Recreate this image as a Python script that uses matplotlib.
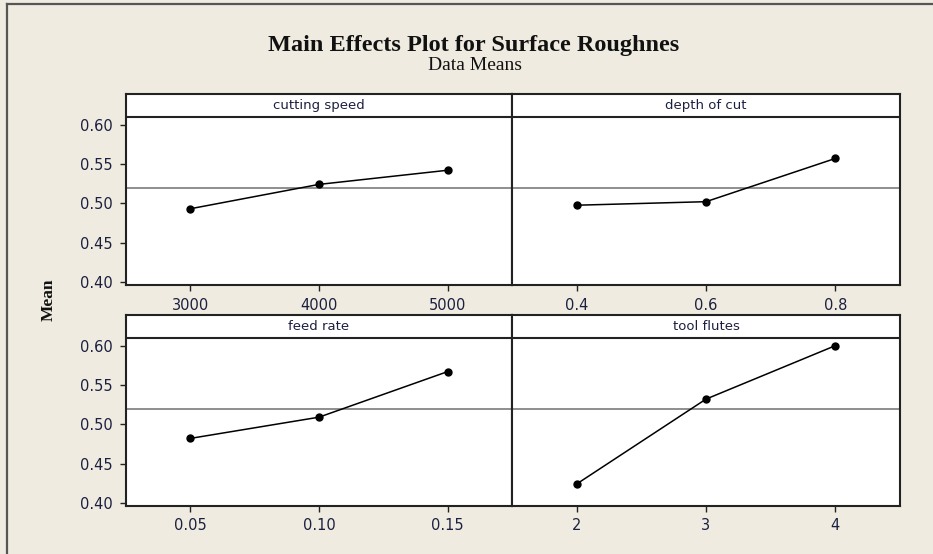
import matplotlib
matplotlib.use('Agg')
import matplotlib.pyplot as plt

# factor names and levels
factors = ['cutting speed', 'depth of cut', 'feed rate', 'tool flutes']
cutting_speed = [3000, 4000, 5000]
depth_of_cut = [0.4, 0.6, 0.8]
feed_rate = [0.05, 0.10, 0.15]
tool_flutes = [2, 3, 4]

# mean surface roughness at each level
mean_cutting_speed = [0.493, 0.524, 0.542]
mean_depth_of_cut = [0.4975, 0.502, 0.557]
mean_feed_rate = [0.482, 0.509, 0.567]
mean_tool_flutes = [0.424, 0.532, 0.600]

level_labels = [['3000', '4000', '5000'],
                ['0.4', '0.6', '0.8'],
                ['0.05', '0.10', '0.15'],
                ['2', '3', '4']]
grand_mean = 0.519
y_ticks = [0.40, 0.45, 0.50, 0.55, 0.60]
y_tick_labels = ['0.40', '0.45', '0.50', '0.55', '0.60']

levels = [cutting_speed, depth_of_cut, feed_rate, tool_flutes]
means = [mean_cutting_speed, mean_depth_of_cut, mean_feed_rate, mean_tool_flutes]

bg = '#EFEBE0'
txt = '#1c2040'
W, H = 933, 554

fig = plt.figure(figsize=(W / 100, H / 100), dpi=100, facecolor=bg)

# window frame (top and left only)
fig.add_artist(plt.Line2D([7 / W, 1], [1 - 4 / H, 1 - 4 / H], color='#555555', lw=1.6,
                          transform=fig.transFigure))
fig.add_artist(plt.Line2D([7 / W, 7 / W], [0, 1 - 4 / H], color='#555555', lw=1.6,
                          transform=fig.transFigure))

fig.text(474 / W, 1 - 45 / H, 'Main Effects Plot for Surface Roughnes', ha='center', va='center',
         family='Liberation Serif', weight='bold', fontsize=17.5, color='#111111')
fig.text(475 / W, 1 - 66 / H, 'Data Means', ha='center', va='center',
         family='Liberation Serif', fontsize=14, color='#111111')
fig.text(49 / W, 1 - 300 / H, 'Mean', ha='center', va='center', rotation=90,
         family='Liberation Serif', weight='bold', fontsize=12.5, color='#111111')

lefts = [126, 512, 126, 512]
widths = [386, 388, 386, 388]
tops = [94, 94, 315, 315]
ph = 191
ylo, yhi, strip_y = 0.396, 0.639, 0.610

for i in range(4):
    ax = fig.add_axes([lefts[i] / W, 1 - (tops[i] + ph) / H, widths[i] / W, ph / H])
    ax.set_facecolor('white')
    x = levels[i]
    step = x[1] - x[0]
    ax.set_xlim(x[0] - 0.5 * step, x[-1] + 0.5 * step)
    ax.set_ylim(ylo, yhi)
    ax.axhline(grand_mean, color='#707070', lw=1.1, zorder=1)
    ax.axhline(strip_y, color='#222222', lw=1.5, zorder=3)
    ax.plot(x, means[i], color='black', lw=1.1, marker='o', ms=5, zorder=4)
    ax.text(0.5, (strip_y + yhi) / 2, factors[i], transform=ax.get_yaxis_transform(),
            ha='center', va='center', fontsize=9.5, color=txt)
    for s in ax.spines.values():
        s.set_color('#222222')
        s.set_linewidth(1.5)
    ax.set_xticks(x)
    ax.set_xticklabels(level_labels[i])
    ax.tick_params(axis='x', direction='out', length=4, width=1, pad=5,
                   labelsize=10.5, labelcolor=txt, color='#222222')
    if i % 2 == 0:
        ax.set_yticks(y_ticks)
        ax.set_yticklabels(y_tick_labels)
        ax.tick_params(axis='y', direction='out', length=4.5, width=1, pad=5,
                       labelsize=10.5, labelcolor=txt, color='#222222')
    else:
        ax.set_yticks([])

fig.savefig('out.png', dpi=100, facecolor=bg)
